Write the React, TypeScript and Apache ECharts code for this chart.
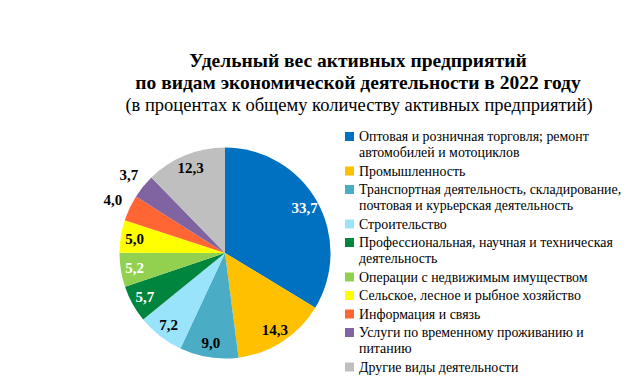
import React, { useEffect, useRef } from 'react';
import * as echarts from 'echarts';

const titleLines = [
  'Удельный вес активных предприятий',
  'по видам экономической деятельности в 2022 году',
];
const subtitle = '(в процентах к общему количеству активных предприятий)';

const categories = [
  'Оптовая и розничная торговля; ремонт\nавтомобилей и мотоциклов',
  'Промышленность',
  'Транспортная деятельность, складирование,\nпочтовая и курьерская деятельность',
  'Строительство',
  'Профессиональная, научная и техническая\nдеятельность',
  'Операции с недвижимым имуществом',
  'Сельское, лесное и рыбное хозяйство',
  'Информация и связь',
  'Услуги по временному проживанию и\nпитанию',
  'Другие виды деятельности',
];
const values = [33.7, 14.3, 9.0, 7.2, 5.7, 5.2, 5.0, 4.0, 3.7, 12.3];
const colors = ['#0070C0', '#FFC000', '#4BACC6', '#99E3FB', '#00853E', '#92D050', '#FFFF00', '#FF6633', '#8064A2', '#BFBFBF'];
const labelColors = ['#fff', '#000', '#000', '#000', '#fff', '#fff', '#000', '#000', '#000', '#000'];
const labelOutside = [false, false, false, false, false, false, false, true, true, false];

const FONT = 'Liberation Serif';

export default function App() {
  const ref = useRef<HTMLDivElement>(null);
  useEffect(() => {
    if (!ref.current) return;
    const chart = echarts.init(ref.current, undefined, { renderer: 'svg' });
    const center = [225, 253];
    const fmt = (p: any) => Number(p.value).toFixed(1).replace('.', ',');
    const labelSeries = (radius: number[], outer: boolean) => ({
      type: 'pie',
      center,
      radius,
      startAngle: 90,
      clockwise: true,
      silent: true,
      avoidLabelOverlap: false,
      emphasis: { disabled: true },
      itemStyle: { color: 'rgba(0,0,0,0)', borderWidth: 0 },
      labelLine: { show: false },
      data: values.map((v, i) => ({
        name: categories[i],
        value: v,
        itemStyle: { color: 'rgba(0,0,0,0)' },
        label: {
          show: labelOutside[i] === outer,
          position: 'inside',
          color: labelColors[i],
          fontFamily: FONT,
          fontWeight: 'bold',
          fontSize: 15,
          formatter: fmt,
        },
      })),
    });
    chart.setOption({
      animation: false,
      textStyle: { fontFamily: FONT },
      title: [
        {
          text: titleLines.join('\n'),
          left: 358,
          top: 50,
          textAlign: 'center',
          padding: 0,
          textStyle: { fontFamily: FONT, fontWeight: 'bold', fontSize: 19.5, lineHeight: 21.5, color: '#000' },
        },
        {
          text: subtitle,
          left: 359,
          top: 93.5,
          textAlign: 'center',
          padding: 0,
          textStyle: { fontFamily: FONT, fontWeight: 'normal', fontSize: 18.5, lineHeight: 22, color: '#000' },
        },
      ],
      legend: {
        orient: 'vertical',
        left: 345,
        top: 124,
        padding: 0,
        itemGap: -6.5,
        itemWidth: 9,
        itemHeight: 25,
        selectedMode: false,
        itemStyle: { borderWidth: 0 },
        textStyle: { fontFamily: FONT, fontSize: 13.9, color: '#000', lineHeight: 16 },
        data: categories.map((name) => {
          const two = name.includes('\n');
          return two
            ? {
                name,
                icon: 'path://M0,0M9,25M0,0h9v9h-9z',
                textStyle: { padding: [4.5, 0, 4.5, 0], backgroundColor: 'rgba(255,255,255,0)' },
              }
            : { name, icon: 'path://M0,0M9,25M0,8h9v9h-9z' };
        }),
      },
      series: [
        {
          type: 'pie',
          center,
          radius: 105.5,
          startAngle: 90,
          clockwise: true,
          silent: true,
          emphasis: { disabled: true },
          label: { show: false },
          labelLine: { show: false },
          itemStyle: { borderWidth: 0 },
          data: values.map((v, i) => ({ name: categories[i], value: v, itemStyle: { color: colors[i] } })),
        },
        labelSeries([72, 105], false),
        labelSeries([105, 137], true),
      ],
    });
    return () => chart.dispose();
  }, []);
  return <div ref={ref} style={{ position: 'absolute', left: 0, top: 0, width: 636, height: 391 }} />;
}
